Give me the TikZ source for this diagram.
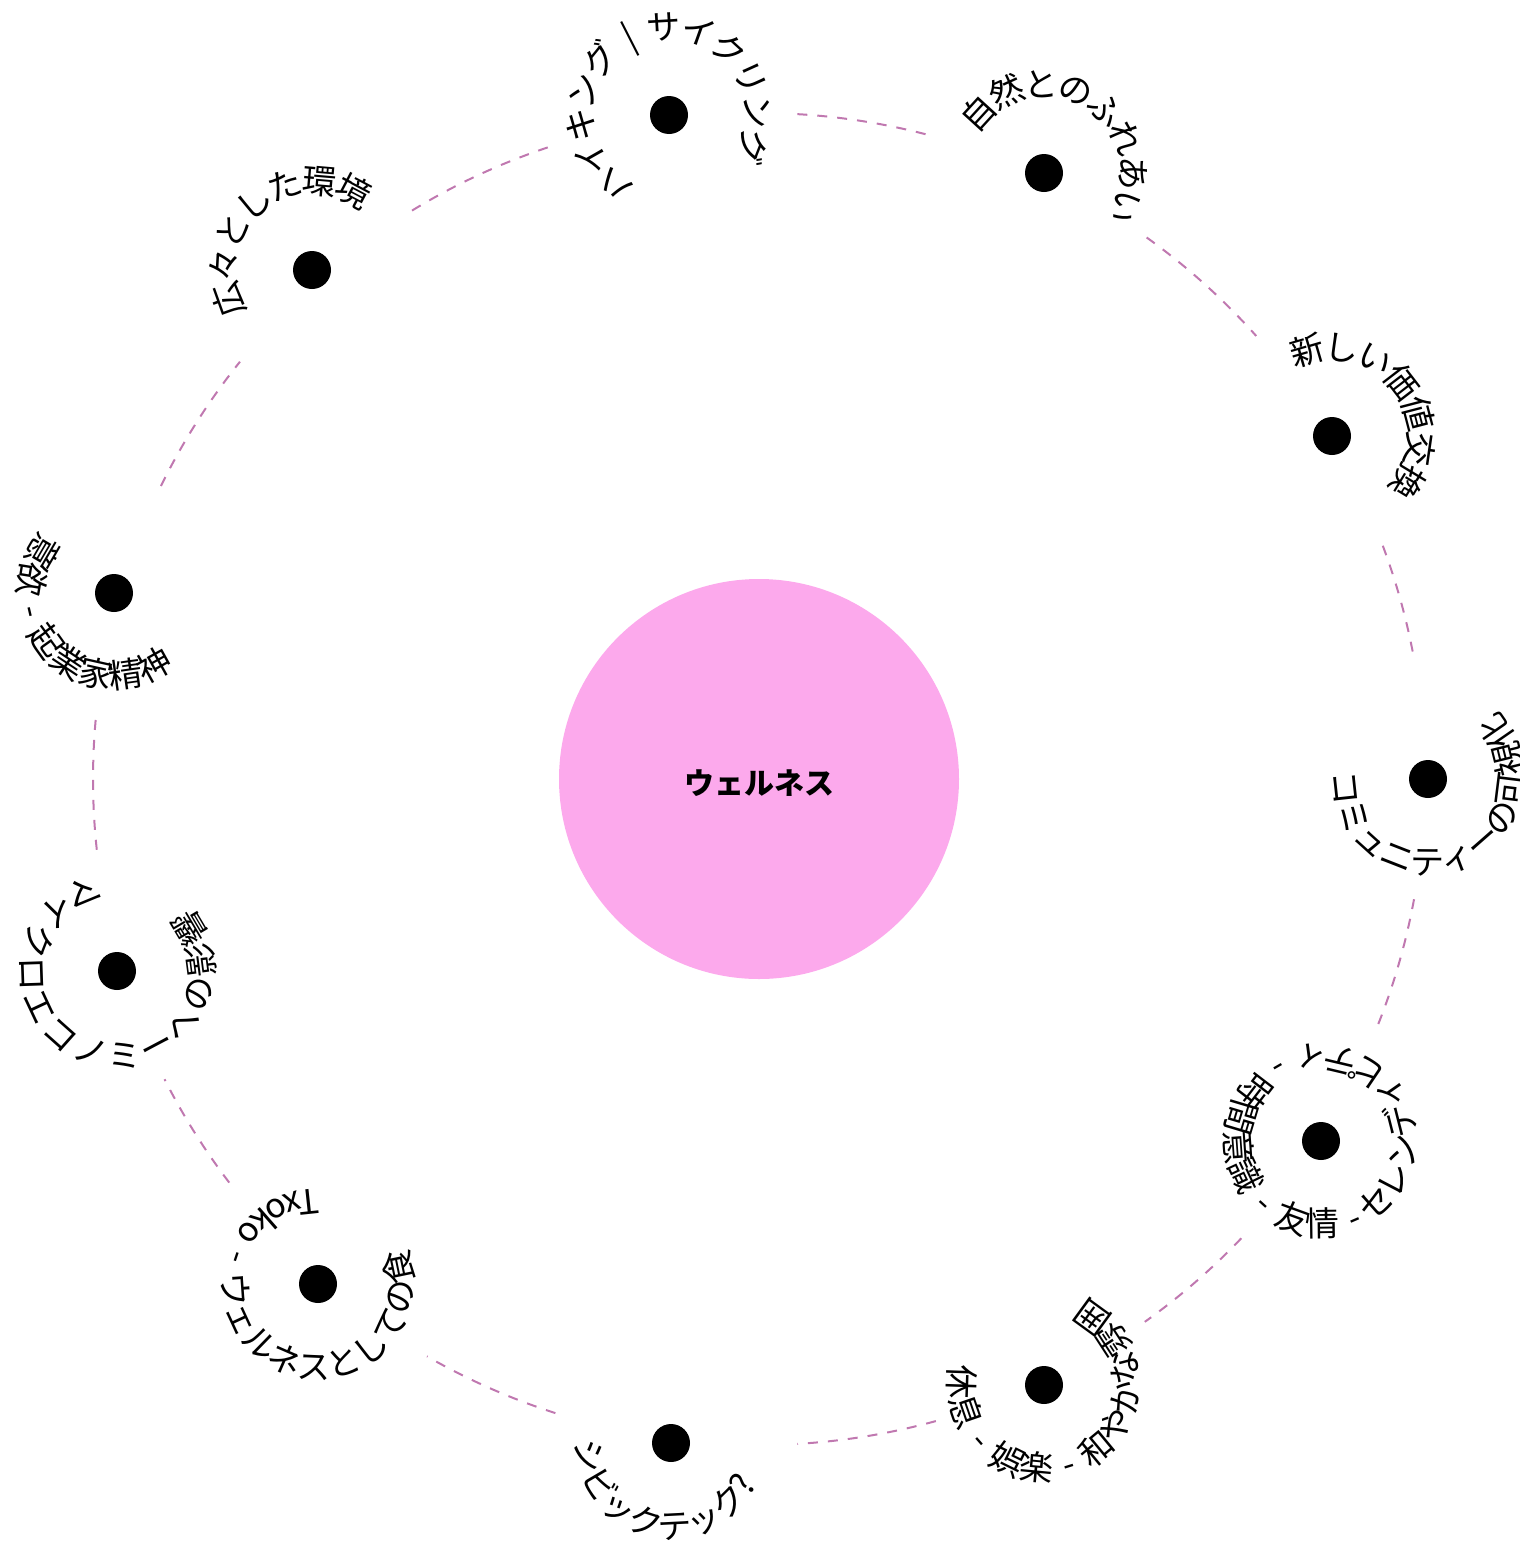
\documentclass[tikz,border=0pt]{standalone}
\usepackage{fontspec}
\setmainfont{Noto Sans CJK JP}[WordSpace=1.8]
\usetikzlibrary{decorations.text}
\definecolor{ringc}{RGB}{192,120,176}
\definecolor{pinkc}{RGB}{252,169,236}
\tikzset{
  dotn/.style={circle, fill=black, minimum size=38pt, inner sep=0pt},
  hub/.style={circle, fill=pinkc, minimum size=400pt, inner sep=0pt},
  hublbl/.style={inner sep=0pt, font=\bfseries\fontsize{30}{36}\selectfont},
  ringarc/.style={draw=ringc, line width=2pt, dash pattern=on 10pt off 10pt},
  outlbl/.style={decorate, decoration={text along path, text format delimiters={<}{>}, text align=center, raise=-9pt, text={<\fontsize{34}{40}\selectfont>#1}}},
  inlbl/.style={decorate, decoration={text along path, text format delimiters={<}{>}, text align=center, raise=-2pt, text={<\fontsize{34}{40}\selectfont>#1}}},
  inlblwide/.style={decorate, decoration={text along path, text format delimiters={<}{>}, text align=center, raise=-13pt, text={<\fontsize{34}{40}\selectfont>#1}}}
}
\begin{document}
\begin{tikzpicture}[x=1pt,y=1pt]
\fontsize{34}{40}\selectfont
\useasboundingbox (0,0) rectangle (1520,-1542);
\node[hub] (ctr) at (759,-779) {};
\node[hublbl] (lbl) at (759,-783) {ウェルネス};
\node[dotn] (d1) at (669,-115) {};
\node[dotn] (d2) at (1044,-173) {};
\node[dotn] (d3) at (1332,-436) {};
\node[dotn] (d4) at (1428,-779) {};
\node[dotn] (d5) at (1321,-1141) {};
\node[dotn] (d6) at (1044,-1385) {};
\node[dotn] (d7) at (671,-1443) {};
\node[dotn] (d8) at (318,-1284) {};
\node[dotn] (d9) at (117,-971) {};
\node[dotn] (d10) at (114,-593) {};
\node[dotn] (d11) at (312,-270) {};
% dashed ring arcs
\draw[ringarc] ([shift={(86.7:666)}]ctr.center) arc[start angle=86.7, end angle=74.7, radius=666];
\draw[ringarc] ([shift={(54.4:666)}]ctr.center) arc[start angle=54.4, end angle=41.7, radius=666];
\draw[ringarc] ([shift={(20.5:666)}]ctr.center) arc[start angle=20.5, end angle=10.5, radius=666];
\draw[ringarc] ([shift={(-10.4:666)}]ctr.center) arc[start angle=-10.4, end angle=-22, radius=666];
\draw[ringarc] ([shift={(-43.6:666)}]ctr.center) arc[start angle=-43.6, end angle=-54.6, radius=666];
\draw[ringarc] ([shift={(-74.6:666)}]ctr.center) arc[start angle=-74.6, end angle=-86.7, radius=666];
\draw[ringarc] ([shift={(-107.8:666)}]ctr.center) arc[start angle=-107.8, end angle=-119.9, radius=666];
\draw[ringarc] ([shift={(-142.7:666)}]ctr.center) arc[start angle=-142.7, end angle=-153.2, radius=666];
\draw[ringarc] ([shift={(-173.9:666)}]ctr.center) arc[start angle=-173.9, end angle=-185.9, radius=666];
\draw[ringarc] ([shift={(153.9:666)}]ctr.center) arc[start angle=153.9, end angle=141.2, radius=666];
\draw[ringarc] ([shift={(121.4:666)}]ctr.center) arc[start angle=121.4, end angle=107.8, radius=666];
% outward labels (clockwise)
\path[outlbl={ハイキング | サイクリング}] ([shift={(285.6:85)}]d1.center) arc[start angle=285.6, end angle=-74.4, radius=85];
\path[outlbl={自然とのふれあい}] ([shift={(237.3:85)}]d2.center) arc[start angle=237.3, end angle=-122.7, radius=85];
\path[outlbl={新しい価値交換}] ([shift={(217.6:85)}]d3.center) arc[start angle=217.6, end angle=-142.4, radius=85];
\path[outlbl={広々とした環境}] ([shift={(310.9:85)}]d11.center) arc[start angle=310.9, end angle=-49.1, radius=85];
% inward labels (counter-clockwise)
\path[inlbl={コミュニティーの可視化}] ([shift={(110.4:93.4)}]d4.center) arc[start angle=110.4, end angle=470.4, radius=93.4];
\path[inlbl={セレンディピティ - 時間意識 - 友情 -}] ([shift={(-61:93.4)}]d5.center) arc[start angle=-61, end angle=299, radius=93.4];
\path[inlbl={休息 - 娯楽 - 和やかな雰囲}] ([shift={(116:93.4)}]d6.center) arc[start angle=116, end angle=476, radius=93.4];
\path[inlbl={シビックテック?}] ([shift={(77:93.4)}]d7.center) arc[start angle=77, end angle=437, radius=93.4];
\path[inlbl={Txoko - ウェルネスとしての食}] ([shift={(56:93.4)}]d8.center) arc[start angle=56, end angle=416, radius=93.4];
\path[inlblwide={マイクロエコノミーへの影響}] ([shift={(71.5:84)}]d9.center) arc[start angle=71.5, end angle=431.5, radius=84];
\path[inlbl={意欲 - 起業家精神}] ([shift={(44.4:93.4)}]d10.center) arc[start angle=44.4, end angle=404.4, radius=93.4];
\end{tikzpicture}
\end{document}
